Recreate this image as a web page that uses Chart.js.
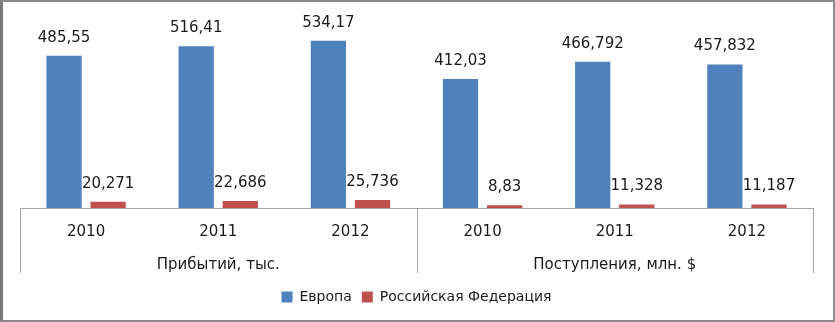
<!DOCTYPE html>
<html>
<head>
<meta charset="utf-8">
<script src="https://cdn.jsdelivr.net/npm/chart.js@4"></script>
<style>
  body { margin: 0; background: #fff; }
  #wrap { width: 835px; height: 322px; box-sizing: border-box; border: 2px solid #8c8c8c; border-left: 3px solid #7a7a7a; }
</style>
</head>
<body>
<div id="wrap"><canvas id="barChart" width="830" height="318"></canvas></div>
<script>
const years = ['2010', '2011', '2012'];
const groups = ['Прибытий, тыс.', 'Поступления, млн. $'];
const europe = [485.55, 516.41, 534.17, 412.03, 466.792, 457.832];
const russia = [20.271, 22.686, 25.736, 8.83, 11.328, 11.187];

// два уровня подписей: год + название группы под средним годом
const labels = [];
groups.forEach(g => years.forEach((y, j) => labels.push([y, j === 1 ? g : ''])));

const fmt = v => String(v).replace('.', ',');

//--- value labels over bars
const valueLabels = {
  id: 'valueLabels',
  afterDatasetsDraw(chart) {
    const ctx = chart.ctx;
    ctx.save();
    ctx.font = '15px "DejaVu Sans"';
    ctx.fillStyle = '#1a1a1a';
    ctx.textAlign = 'center';
    ctx.textBaseline = 'middle';
    chart.data.datasets.forEach((ds, i) => {
      chart.getDatasetMeta(i).data.forEach((bar, j) => {
        ctx.fillText(fmt(ds.data[j]), bar.x, bar.y - 18);
      });
    });
    ctx.restore();
  }
};

//--- group dividers under the axis
const groupLines = {
  id: 'groupLines',
  afterDraw(chart) {
    const xs = chart.scales.x;
    const step = xs.width / labels.length;
    const ctx = chart.ctx;
    ctx.save();
    ctx.strokeStyle = '#a6a6a6';
    ctx.lineWidth = 1;
    [0, years.length, labels.length].forEach(k => {
      const x = Math.round(xs.left + k * step) + 0.5;
      ctx.beginPath();
      ctx.moveTo(x, xs.top);
      ctx.lineTo(x, xs.top + 65);
      ctx.stroke();
    });
    ctx.restore();
  }
};

new Chart(document.getElementById('barChart'), {
  type: 'bar',
  data: {
    labels: labels,
    datasets: [
      {
        label: 'Европа',
        data: europe,
        backgroundColor: '#4F81BD',
        categoryPercentage: 0.667,
        barPercentage: 0.8
      },
      {
        label: 'Российская Федерация',
        data: russia,
        backgroundColor: '#C0504D',
        categoryPercentage: 0.667,
        barPercentage: 0.8
      }
    ]
  },
  options: {
    responsive: false,
    animation: false,
    devicePixelRatio: 1,
    layout: { padding: { top: 18, left: 17, right: 20, bottom: 6 } },
    scales: {
      x: {
        grid: { display: false },
        border: { display: true, color: '#a6a6a6' },
        ticks: {
          color: '#1a1a1a',
          padding: 0,
          maxRotation: 0,
          autoSkip: false,
          font: { family: 'DejaVu Sans', size: 15, lineHeight: 2.2 }
        },
        afterFit(scale) { scale.height = 72; }
      },
      y: { display: false, min: 0, max: 600 }
    },
    plugins: {
      legend: {
        position: 'bottom',
        labels: {
          boxWidth: 11,
          boxHeight: 11,
          color: '#1a1a1a',
          font: { family: 'DejaVu Sans', size: 14 }
        }
      },
      tooltip: { enabled: false }
    }
  },
  plugins: [valueLabels, groupLines]
});
</script>
</body>
</html>
